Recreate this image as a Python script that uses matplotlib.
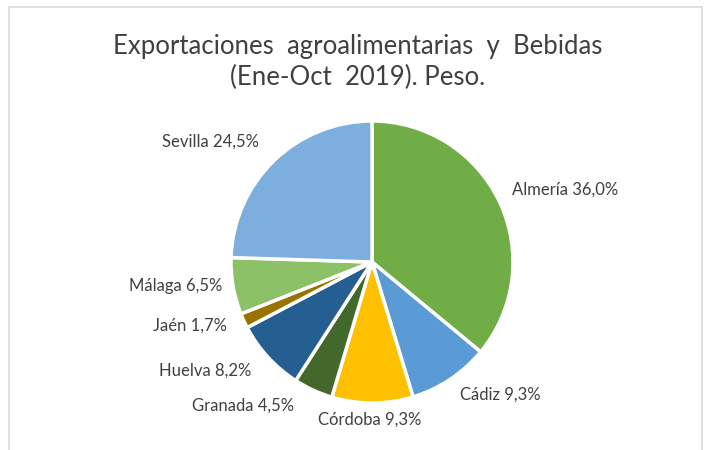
import matplotlib.pyplot as plt
from matplotlib.patches import Rectangle

plt.rcParams['font.family'] = ['Lato', 'DejaVu Sans']

provincias = ['Almería', 'Cádiz', 'Córdoba', 'Granada', 'Huelva', 'Jaén', 'Málaga', 'Sevilla']
pesos = [36.0, 9.3, 9.3, 4.5, 8.2, 1.7, 6.5, 24.5]
colores = ['#70AD47', '#5B9BD5', '#FFC000', '#43682B', '#255E91', '#997300', '#8CC168', '#7CAFDD']
# label positions (pie radius units), similar to Excel "best fit"
label_pos = [(0.993, 0.511, 'left'), (0.908, -0.943, 'center'), (-0.014, -1.12, 'center'),
             (-0.915, -1.02, 'center'), (-1.184, -0.773, 'center'), (-1.29, -0.454, 'center'),
             (-1.39, -0.17, 'center'), (-1.142, 0.851, 'center')]

W, H = 707, 450
cx, cy, R = 372, 188, 141  # pixels from bottom-left

fig = plt.figure(figsize=(W / 100, H / 100), dpi=100)
ax = fig.add_axes([0, 0, 1, 1])

wedges, _ = ax.pie(pesos, colors=colores, startangle=90, counterclock=False, radius=1,
                   wedgeprops=dict(edgecolor='white', linewidth=2.5))
ax.set_aspect('auto')
ax.set_xlim(-cx / R, (W - cx) / R)
ax.set_ylim(-cy / R, (H - cy) / R)
ax.axis('off')

for name, val, (x, y, ha) in zip(provincias, pesos, label_pos):
    txt = '%s %s%%' % (name, ('%.1f' % val).replace('.', ','))
    ax.text(x, y, txt, ha=ha, va='center', fontsize=12, color='#404040')

fig.text(358 / W, 1 - 62 / H, 'Exportaciones  agroalimentarias  y  Bebidas\n(Ene-Oct  2019). Peso.',
         ha='center', va='center', fontsize=18.5, color='#404040', linespacing=1.25)

fig.patches.append(Rectangle((9 / W, -0.1), 693 / W, 1.1 - 7 / H, transform=fig.transFigure,
                             fill=False, edgecolor='#D9D9D9', linewidth=1.2))

fig.savefig('out.png', dpi=100)
